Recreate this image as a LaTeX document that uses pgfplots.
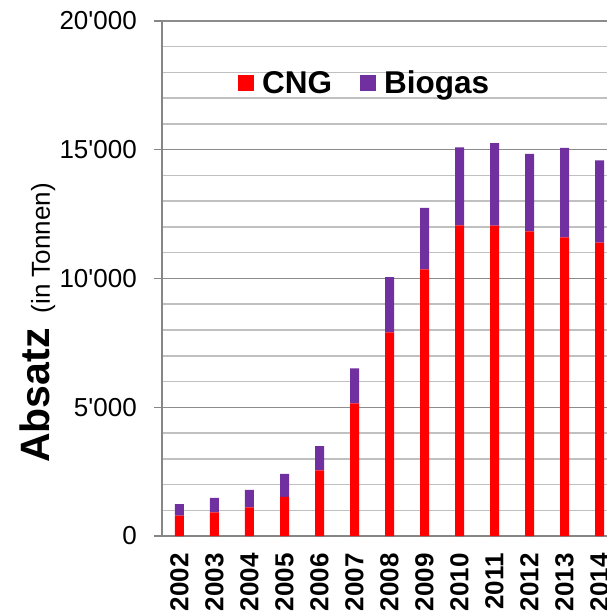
\documentclass[border=0pt]{standalone}
\usepackage{fontspec}
\setmainfont{Liberation Sans}[Ligatures=TeXOff]
\usepackage{pgfplots}
\pgfplotsset{compat=1.18}
\usetikzlibrary{calc}
\definecolor{cng}{HTML}{FF0000}
\definecolor{bio}{HTML}{7030A0}
\definecolor{axgray}{HTML}{868686}
\definecolor{majgrid}{HTML}{8C8C8C}
\definecolor{mingrid}{HTML}{C0C0C0}
\begin{document}
\begin{tikzpicture}
\begin{axis}[
  scale only axis, width=445pt, height=515pt,
  ybar stacked, bar width=9pt,
  xmin=-0.5, xmax=12.214, ymin=0, ymax=20000,
  axis x line*=bottom, axis y line*=left,
  axis line style={axgray, line width=1.8pt},
  xtick={0,1,2,3,4,5,6,7,8,9,10,11,12},
  xticklabels={2002,2003,2004,2005,2006,2007,2008,2009,2010,2011,2012,2013,2014},
  xtick style={draw=none},
  xticklabel style={rotate=90, anchor=east, inner sep=0pt, font=\fontsize{26}{26}\bfseries},
  xticklabel shift=9pt,
  ytick={0,5000,10000,15000,20000},
  yticklabels={0,5'000,10'000,15'000,20'000},
  minor ytick={1000,2000,3000,4000,6000,7000,8000,9000,11000,12000,13000,14000,16000,17000,18000,19000},
  scaled y ticks=false,
  ymajorgrids, yminorgrids,
  major grid style={majgrid, line width=1.5pt},
  minor grid style={mingrid, line width=1.5pt},
  tick align=outside, major tick length=8pt, minor tick length=0pt,
  ytick style={axgray, line width=1.5pt},
  yticklabel style={font=\fontsize{26}{26}\selectfont, inner sep=0pt, anchor=east},
  yticklabel shift=17pt,
  ylabel={{\fontsize{41}{41}\bfseries Absatz}\hspace{15pt}{\fontsize{26}{26}\selectfont (in Tonnen)}},
  every axis y label/.style={at={($(rel axis cs:0,0)+(-112pt,73pt)$)}, rotate=90, anchor=base west, inner sep=0pt},
  legend columns=2,
  legend style={draw=none, fill=none, at={(rel axis cs:0.1708,0.8796)}, anchor=west, inner sep=0pt,
    font=\fontsize{31.5}{31.5}\bfseries, nodes={inner sep=0pt},
    /tikz/every odd column/.style={column sep=8pt},
    /tikz/every even column/.style={column sep=28pt}},
  legend image code/.code={\fill[#1] (0pt,-8pt) rectangle (16pt,8pt);},
]
\addplot[fill=cng, draw=none] coordinates {(0,790)(1,920)(2,1115)(3,1515)(4,2551)(5,5153)(6,7910)(7,10356)(8,12066)(9,12050)(10,11832)(11,11600)(12,11390)};
\addplot[fill=bio, draw=none] coordinates {(0,450)(1,560)(2,675)(3,893)(4,944)(5,1359)(6,2148)(7,2382)(8,3028)(9,3212)(10,3003)(11,3468)(12,3200)};
\legend{CNG,Biogas}
\coordinate (ll) at (rel axis cs:0,0);
\end{axis}
\pgfresetboundingbox
\path[use as bounding box] (ll) ++(-162pt,-78pt) rectangle ++(607pt,614pt);
\end{tikzpicture}
\end{document}
